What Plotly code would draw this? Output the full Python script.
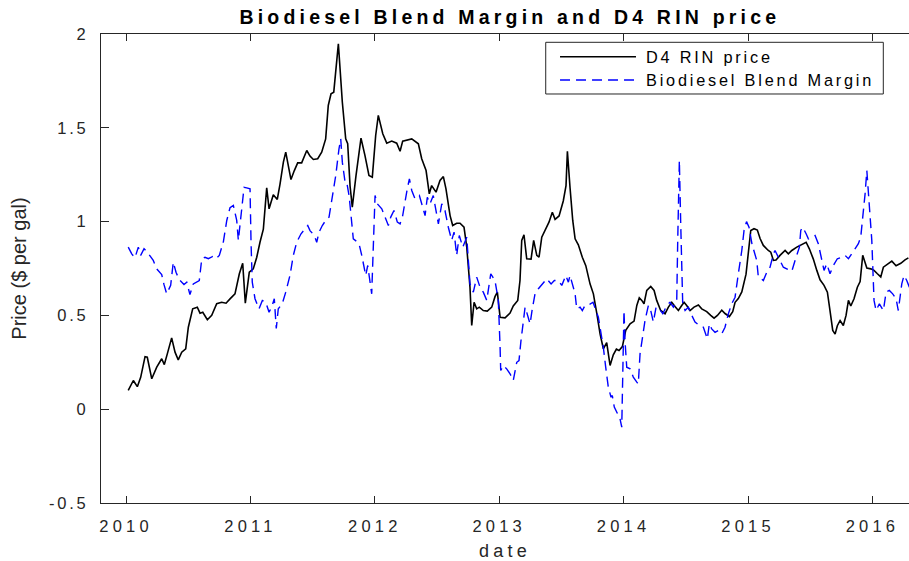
import plotly.graph_objects as go

# ---- data (decimal year, $/gal) ----
rin_t = [2010.018, 2010.059, 2010.091, 2010.118, 2010.153, 2010.171, 2010.207, 2010.247, 2010.287, 2010.308,
         2010.332, 2010.367, 2010.394, 2010.420, 2010.448, 2010.480, 2010.501, 2010.536, 2010.573, 2010.595,
         2010.617, 2010.654, 2010.689, 2010.729, 2010.769, 2010.804, 2010.836, 2010.876, 2010.911, 2010.938,
         2010.959, 2010.991, 2011.023, 2011.051, 2011.077, 2011.104, 2011.131, 2011.150, 2011.184, 2011.216,
         2011.238, 2011.265, 2011.284, 2011.305, 2011.326, 2011.353, 2011.380, 2011.412, 2011.453, 2011.479,
         2011.506, 2011.541, 2011.573, 2011.605, 2011.626, 2011.648, 2011.670, 2011.707, 2011.739, 2011.766,
         2011.782, 2011.801, 2011.819, 2011.849, 2011.889, 2011.921, 2011.953, 2011.980, 2012.007, 2012.028,
         2012.064, 2012.096, 2012.136, 2012.176, 2012.203, 2012.224, 2012.297, 2012.350, 2012.377, 2012.412,
         2012.438, 2012.457, 2012.492, 2012.524, 2012.551, 2012.572, 2012.605, 2012.626, 2012.658, 2012.685,
         2012.717, 2012.739, 2012.765, 2012.779, 2012.798, 2012.819, 2012.840, 2012.872, 2012.904, 2012.940,
         2012.966, 2012.985, 2013.007, 2013.047, 2013.087, 2013.113, 2013.149, 2013.167, 2013.181, 2013.199,
         2013.221, 2013.256, 2013.277, 2013.302, 2013.320, 2013.342, 2013.368, 2013.400, 2013.427, 2013.449,
         2013.481, 2013.515, 2013.537, 2013.548, 2013.569, 2013.591, 2013.610, 2013.636, 2013.668, 2013.696,
         2013.730, 2013.757, 2013.784, 2013.811, 2013.837, 2013.864, 2013.891, 2013.917, 2013.942, 2013.963,
         2013.990, 2014.017, 2014.052, 2014.084, 2014.106, 2014.126, 2014.146, 2014.164, 2014.186, 2014.218,
         2014.245, 2014.266, 2014.298, 2014.333, 2014.360, 2014.387, 2014.413, 2014.440, 2014.467, 2014.486,
         2014.507, 2014.534, 2014.566, 2014.601, 2014.628, 2014.668, 2014.700, 2014.727, 2014.754, 2014.789,
         2014.815, 2014.850, 2014.877, 2014.896, 2014.922, 2014.950, 2014.984, 2015.003, 2015.022, 2015.048,
         2015.075, 2015.097, 2015.123, 2015.163, 2015.183, 2015.204, 2015.225, 2015.257, 2015.298, 2015.324,
         2015.352, 2015.392, 2015.432, 2015.467, 2015.493, 2015.525, 2015.553, 2015.579, 2015.611, 2015.638,
         2015.659, 2015.681, 2015.700, 2015.718, 2015.740, 2015.766, 2015.788, 2015.807, 2015.826, 2015.852,
         2015.879, 2015.901, 2015.922, 2015.955, 2015.987, 2016.013, 2016.040, 2016.067, 2016.088, 2016.120,
         2016.156, 2016.190, 2016.228, 2016.262, 2016.289]
rin_price = [0.10, 0.153, 0.12, 0.17, 0.28, 0.277, 0.162, 0.224, 0.269, 0.238,
             0.295, 0.38, 0.304, 0.263, 0.304, 0.322, 0.437, 0.535, 0.544, 0.512,
             0.517, 0.477, 0.50, 0.562, 0.57, 0.565, 0.588, 0.615, 0.722, 0.778,
             0.565, 0.73, 0.748, 0.81, 0.89, 0.96, 1.18, 1.068, 1.143, 1.118,
             1.20, 1.317, 1.37, 1.29, 1.224, 1.272, 1.313, 1.313, 1.379, 1.349,
             1.331, 1.335, 1.37, 1.441, 1.619, 1.681, 1.69, 1.948, 1.636, 1.441,
             1.415, 1.19, 1.077, 1.246, 1.445, 1.352, 1.246, 1.237, 1.459, 1.566,
             1.468, 1.418, 1.429, 1.418, 1.375, 1.429, 1.441, 1.415, 1.335, 1.272,
             1.148, 1.192, 1.157, 1.219, 1.24, 1.175, 1.032, 0.979, 0.991, 0.991,
             0.97, 0.864, 0.65, 0.446, 0.57, 0.535, 0.544, 0.526, 0.523, 0.544,
             0.60, 0.624, 0.49, 0.487, 0.512, 0.55, 0.58, 0.686, 0.90, 0.93,
             0.802, 0.80, 0.90, 0.82, 0.81, 0.917, 0.95, 0.997, 1.05, 1.012,
             1.03, 1.11, 1.192, 1.375, 1.183, 1.006, 0.908, 0.876, 0.81, 0.765,
             0.668, 0.615, 0.512, 0.40, 0.322, 0.355, 0.233, 0.29, 0.32, 0.313,
             0.334, 0.42, 0.455, 0.47, 0.553, 0.594, 0.58, 0.562, 0.633, 0.654,
             0.633, 0.58, 0.526, 0.509, 0.544, 0.57, 0.547, 0.526, 0.553, 0.57,
             0.553, 0.526, 0.544, 0.555, 0.535, 0.52, 0.50, 0.485, 0.50, 0.528,
             0.51, 0.494, 0.52, 0.57, 0.59, 0.625, 0.72, 0.83, 0.953, 0.962,
             0.955, 0.91, 0.873, 0.846, 0.837, 0.793, 0.795, 0.82, 0.846, 0.828,
             0.846, 0.864, 0.88, 0.89, 0.855, 0.80, 0.74, 0.69, 0.66, 0.624,
             0.526, 0.42, 0.40, 0.445, 0.473, 0.446, 0.50, 0.58, 0.55, 0.589,
             0.65, 0.68, 0.82, 0.752, 0.748, 0.74, 0.722, 0.705, 0.757, 0.771,
             0.789, 0.765, 0.778, 0.796, 0.807]

margin_t = [2010.018, 2010.046, 2010.072, 2010.099, 2010.118, 2010.145, 2010.171, 2010.219, 2010.247, 2010.287,
            2010.305, 2010.327, 2010.359, 2010.380, 2010.402, 2010.428, 2010.466, 2010.488, 2010.514, 2010.541,
            2010.589, 2010.609, 2010.635, 2010.662, 2010.697, 2010.724, 2010.750, 2010.782, 2010.810, 2010.836,
            2010.863, 2010.890, 2010.903, 2010.922, 2010.949, 2010.970, 2010.997, 2011.005, 2011.015, 2011.037,
            2011.069, 2011.096, 2011.123, 2011.150, 2011.171, 2011.192, 2011.208, 2011.224, 2011.256, 2011.284,
            2011.318, 2011.345, 2011.372, 2011.407, 2011.439, 2011.461, 2011.479, 2011.514, 2011.533, 2011.552,
            2011.578, 2011.605, 2011.632, 2011.658, 2011.686, 2011.712, 2011.726, 2011.739, 2011.761, 2011.774,
            2011.793, 2011.809, 2011.827, 2011.855, 2011.873, 2011.895, 2011.916, 2011.927, 2011.943, 2011.962,
            2011.975, 2012.002, 2012.020, 2012.056, 2012.082, 2012.109, 2012.128, 2012.154, 2012.181, 2012.203,
            2012.224, 2012.243, 2012.261, 2012.278, 2012.297, 2012.323, 2012.358, 2012.385, 2012.404, 2012.422,
            2012.444, 2012.470, 2012.498, 2012.511, 2012.538, 2012.564, 2012.591, 2012.618, 2012.637, 2012.658,
            2012.679, 2012.707, 2012.739, 2012.752, 2012.765, 2012.792, 2012.819, 2012.846, 2012.872, 2012.900,
            2012.932, 2012.966, 2012.993, 2013.007, 2013.012, 2013.033, 2013.060, 2013.087, 2013.113, 2013.141,
            2013.159, 2013.175, 2013.194, 2013.208, 2013.221, 2013.248, 2013.266, 2013.288, 2013.315, 2013.355,
            2013.382, 2013.417, 2013.443, 2013.475, 2013.503, 2013.535, 2013.556, 2013.569, 2013.596, 2013.610,
            2013.623, 2013.650, 2013.668, 2013.690, 2013.730, 2013.754, 2013.797, 2013.819, 2013.837, 2013.856,
            2013.877, 2013.899, 2013.909, 2013.925, 2013.953, 2013.971, 2013.985, 2013.993, 2014.003, 2014.011,
            2014.025, 2014.052, 2014.078, 2014.106, 2014.118, 2014.132, 2014.154, 2014.172, 2014.199, 2014.218,
            2014.239, 2014.261, 2014.287, 2014.315, 2014.347, 2014.373, 2014.400, 2014.427, 2014.435, 2014.443,
            2014.448, 2014.459, 2014.467, 2014.475, 2014.494, 2014.520, 2014.548, 2014.574, 2014.609, 2014.641,
            2014.673, 2014.689, 2014.708, 2014.735, 2014.762, 2014.789, 2014.815, 2014.842, 2014.869, 2014.896,
            2014.922, 2014.950, 2014.968, 2014.988, 2015.008, 2015.032, 2015.070, 2015.083, 2015.097, 2015.123,
            2015.151, 2015.177, 2015.204, 2015.217, 2015.244, 2015.284, 2015.311, 2015.352, 2015.378, 2015.392,
            2015.413, 2015.424, 2015.440, 2015.467, 2015.485, 2015.512, 2015.539, 2015.565, 2015.593, 2015.611,
            2015.633, 2015.659, 2015.686, 2015.718, 2015.754, 2015.780, 2015.807, 2015.834, 2015.852, 2015.887,
            2015.906, 2015.927, 2015.941, 2015.955, 2015.967, 2015.981, 2015.995, 2016.003, 2016.013, 2016.029,
            2016.056, 2016.088, 2016.110, 2016.136, 2016.163, 2016.190, 2016.208, 2016.236, 2016.254, 2016.276,
            2016.297]
blend_margin = [0.864, 0.828, 0.807, 0.864, 0.82, 0.855, 0.837, 0.793, 0.748, 0.718,
                0.665, 0.615, 0.66, 0.784, 0.73, 0.69, 0.665, 0.677, 0.611, 0.668,
                0.686, 0.802, 0.81, 0.802, 0.814, 0.802, 0.82, 0.89, 1.006, 1.074,
                1.086, 1.006, 0.90, 1.006, 1.183, 1.18, 1.175, 0.89, 0.677, 0.589,
                0.535, 0.58, 0.57, 0.517, 0.544, 0.589, 0.43, 0.535, 0.562, 0.624,
                0.713, 0.82, 0.89, 0.935, 0.962, 0.979, 0.952, 0.926, 0.89, 0.944,
                0.979, 1.006, 1.024, 1.122, 1.246, 1.388, 1.441, 1.317, 1.21, 1.21,
                1.139, 1.032, 0.908, 0.894, 0.882, 0.82, 0.748, 0.713, 0.766, 0.677,
                0.615, 1.139, 1.095, 1.068, 1.024, 0.979, 1.024, 1.059, 0.997, 0.988,
                1.032, 1.112, 1.175, 1.228, 1.166, 1.122, 1.139, 1.077, 1.032, 1.13,
                1.095, 1.139, 1.042, 0.988, 1.095, 1.059, 0.97, 0.90, 0.944, 0.82,
                0.926, 0.864, 0.917, 0.81, 0.668, 0.624, 0.704, 0.65, 0.624, 0.58,
                0.722, 0.686, 0.58, 0.33, 0.206, 0.233, 0.215, 0.189, 0.153, 0.25,
                0.259, 0.366, 0.49, 0.544, 0.517, 0.455, 0.535, 0.615, 0.642, 0.677,
                0.695, 0.668, 0.686, 0.686, 0.66, 0.713, 0.677, 0.713, 0.65, 0.615,
                0.535, 0.544, 0.526, 0.553, 0.56, 0.57, 0.49, 0.40, 0.33, 0.224,
                0.117, 0.064, 0.073, 0.011, -0.025, -0.051, -0.096, 0.189, 0.526, 0.366,
                0.224, 0.215, 0.171, 0.144, 0.135, 0.295, 0.402, 0.473, 0.553, 0.526,
                0.465, 0.544, 0.535, 0.509, 0.553, 0.57, 0.544, 0.58, 0.90, 1.255,
                1.326, 0.988, 0.686, 0.562, 0.526, 0.544, 0.50, 0.465, 0.446, 0.437,
                0.375, 0.455, 0.428, 0.41, 0.42, 0.402, 0.437, 0.509, 0.562, 0.597,
                0.722, 0.846, 0.953, 1.0, 0.97, 0.88, 0.793, 0.704, 0.70, 0.686,
                0.73, 0.757, 0.828, 0.846, 0.81, 0.757, 0.748, 0.735, 0.793, 0.82,
                0.864, 0.953, 0.97, 0.935, 0.908, 0.917, 0.926, 0.882, 0.793, 0.74,
                0.775, 0.722, 0.766, 0.802, 0.81, 0.82, 0.802, 0.828, 0.846, 0.882,
                0.917, 1.042, 1.148, 1.272, 1.166, 1.077, 0.90, 0.757, 0.58, 0.526,
                0.562, 0.526, 0.624, 0.633, 0.615, 0.589, 0.526, 0.668, 0.713, 0.686,
                0.65]

x_ticks = [2010, 2011, 2012, 2013, 2014, 2015, 2016]
x_tick_labels = ["2010", "2011", "2012", "2013", "2014", "2015", "2016"]
y_ticks = [-0.5, 0, 0.5, 1, 1.5, 2]
y_tick_labels = ["-0.5", "0", "0.5", "1", "1.5", "2"]

series_names = ["D4 RIN price", "Biodiesel Blend Margin"]
title_text = "Biodiesel Blend Margin and D4 RIN price"

FONT = "Liberation Sans, Arial, Helvetica, sans-serif"
AX = "#262626"
DASH = "10px,6px"


def spaced(s, px):
    return f'<span style="letter-spacing:{px}px">{s}</span>'


fig = go.Figure()
fig.add_trace(go.Scatter(x=rin_t, y=rin_price, mode="lines", name=series_names[0],
                         line=dict(color="#000000", width=1.6), showlegend=False))
fig.add_trace(go.Scatter(x=margin_t, y=blend_margin, mode="lines", name=series_names[1],
                         line=dict(color="#0000ff", width=1.4, dash=DASH), showlegend=False))

# manual MATLAB-style legend box (paper coordinates)
lx0, lx1, ly0, ly1 = 0.5504, 0.9682, 0.8721, 0.9823
fig.add_shape(type="rect", xref="paper", yref="paper", x0=lx0, x1=lx1, y0=ly0, y1=ly1,
              line=dict(color=AX, width=1), fillcolor="white", layer="above")
rows = [0.9516, 0.9019]
styles = [dict(color="#000000", width=1.6), dict(color="#0000ff", width=1.4, dash=DASH)]
for i, name in enumerate(series_names):
    fig.add_shape(type="line", xref="paper", yref="paper", x0=0.5681, x1=0.6621,
                  y0=rows[i], y1=rows[i], line=styles[i], layer="above")
    fig.add_annotation(xref="paper", yref="paper", x=0.6720, y=rows[i], xanchor="left",
                       yanchor="middle", showarrow=False, text=spaced(name, 2.8),
                       font=dict(family=FONT, size=16.3, color="#000000"))

fig.update_layout(
    width=909, height=561,
    margin=dict(l=101, r=0, t=34, b=58),
    paper_bgcolor="white", plot_bgcolor="white",
    title=dict(text=spaced(title_text, 4.2), x=0.506, xref="paper", xanchor="center",
               y=1 - 17 / 561, yref="container", yanchor="middle",
               font=dict(family=FONT, size=19.5, color="#000000", weight="bold")),
    xaxis=dict(range=[2009.799, 2016.294], tickvals=x_ticks,
               ticktext=[spaced(t, 4.2) for t in x_tick_labels],
               ticks="inside", ticklen=7, tickwidth=1.2, tickcolor=AX,
               showline=True, linecolor=AX, linewidth=1.3, mirror="ticks",
               showgrid=False, zeroline=False, ticklabelstandoff=8, automargin=False,
               tickfont=dict(family=FONT, size=16.5, color=AX),
               title=dict(text=spaced("date", 4.2), standoff=11,
                          font=dict(family=FONT, size=18, color=AX))),
    yaxis=dict(range=[-0.5, 2], tickvals=y_ticks,
               ticktext=[spaced(t, 2.8) for t in y_tick_labels],
               ticks="inside", ticklen=8, tickwidth=1.2, tickcolor=AX,
               showline=True, linecolor=AX, linewidth=1.3, mirror=False,
               showgrid=False, zeroline=False, ticklabelstandoff=8, automargin=False,
               tickfont=dict(family=FONT, size=16.5, color=AX),
               title=dict(text="Price ($ per gal)", standoff=16,
                          font=dict(family=FONT, size=20, color=AX))),
)

fig.write_html("out.html", config={"displayModeBar": False},
               post_script="document.body.style.margin='0';")
